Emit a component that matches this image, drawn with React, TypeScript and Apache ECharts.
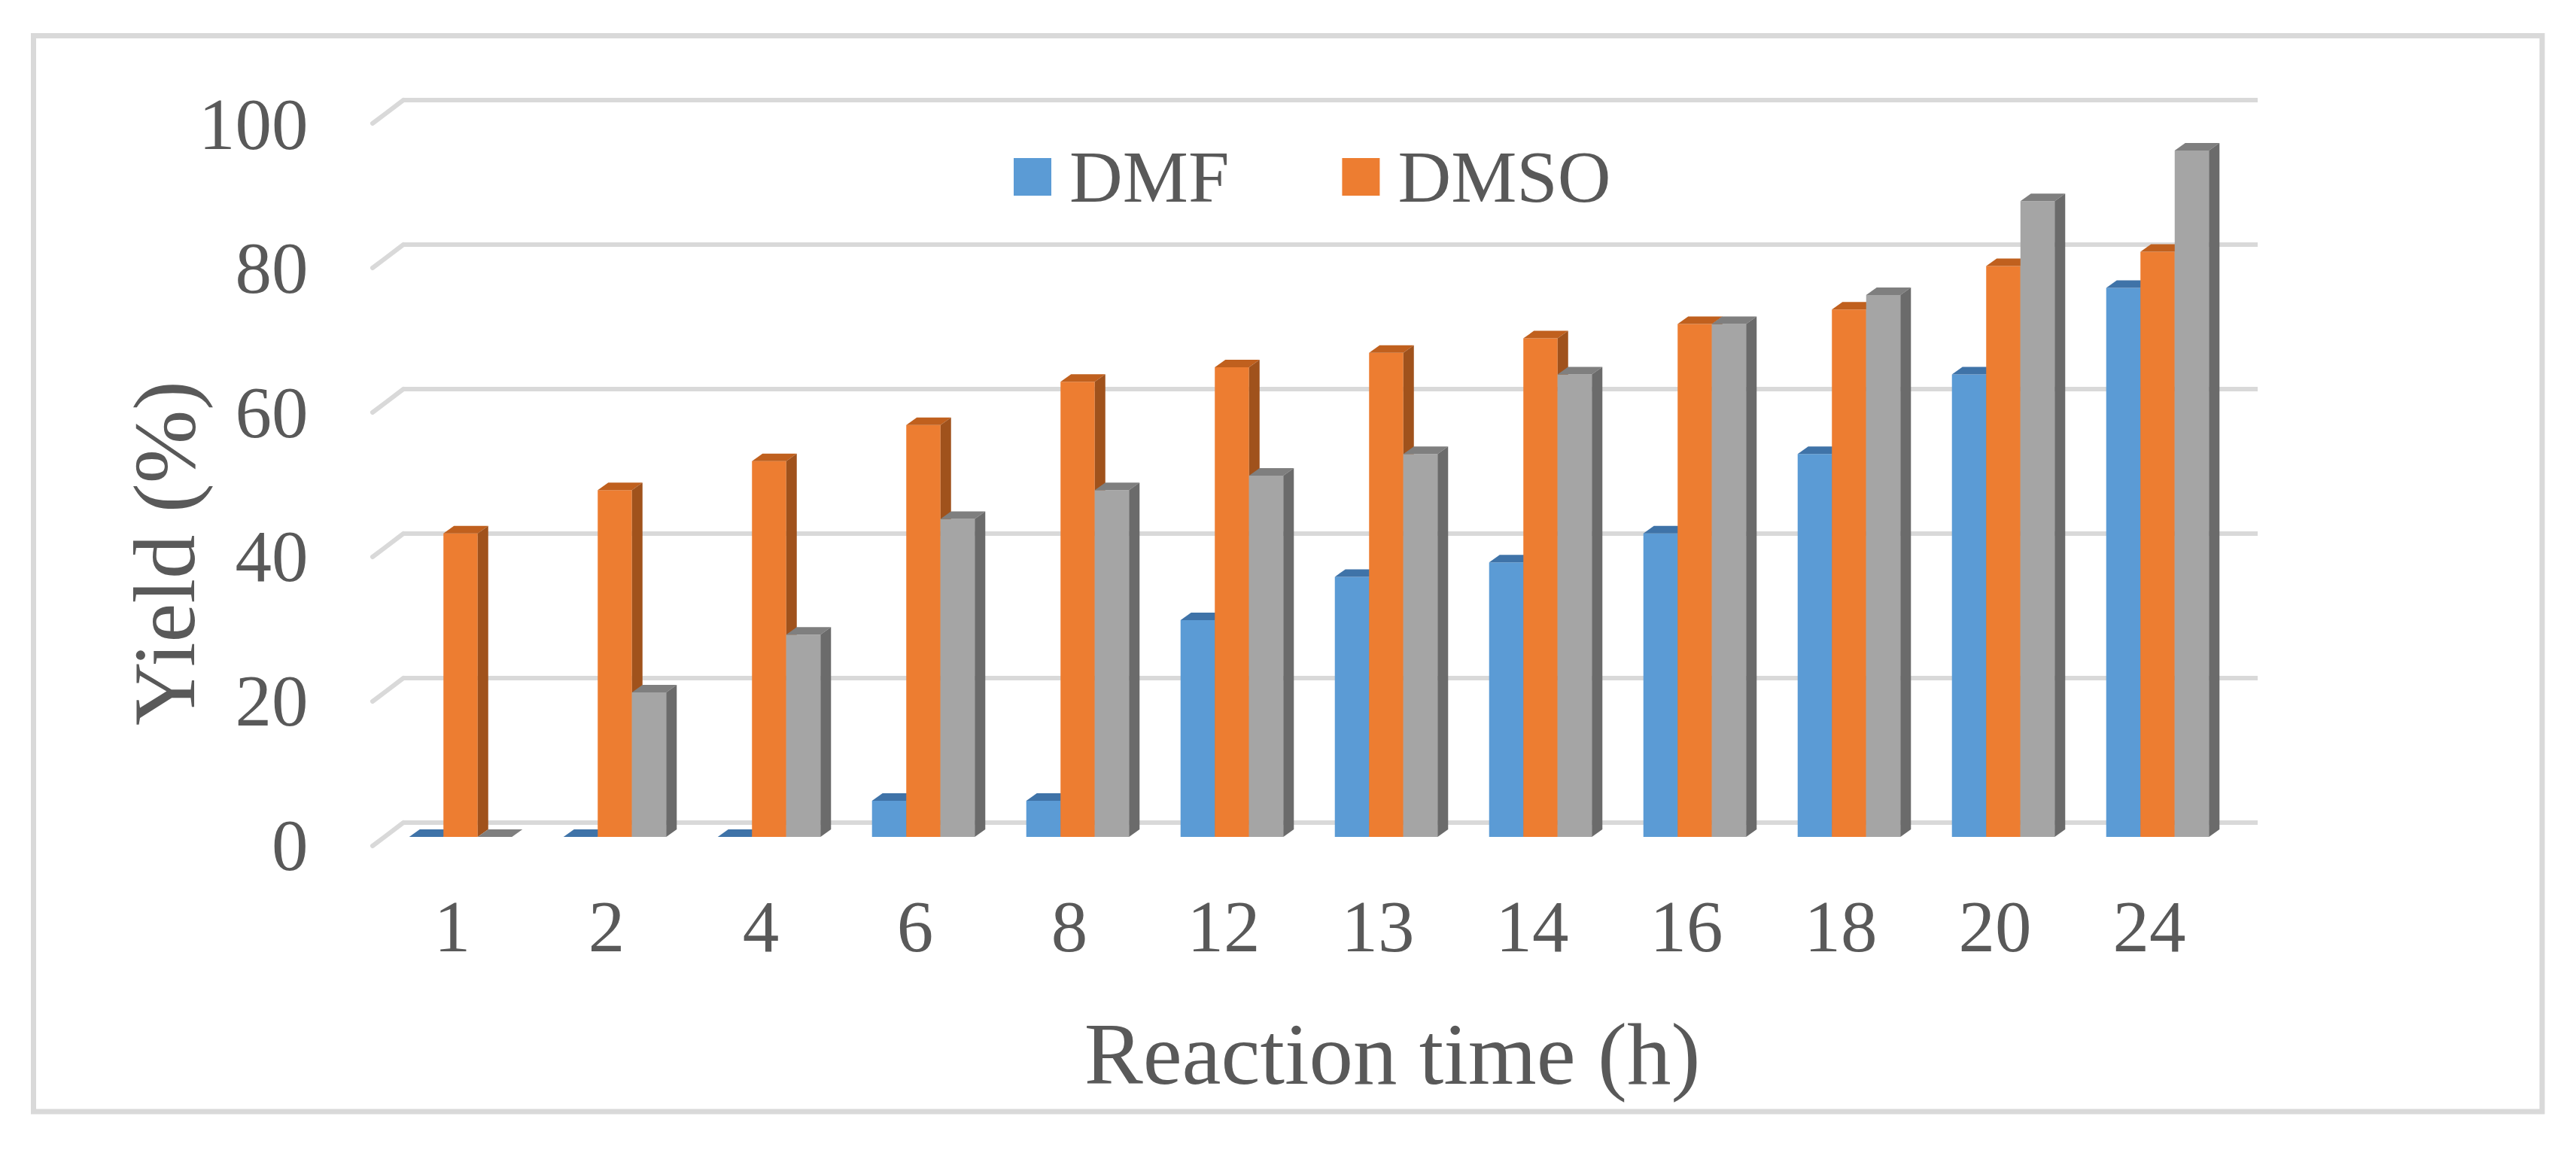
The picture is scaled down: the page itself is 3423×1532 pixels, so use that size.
import React, { useEffect, useRef } from "react";
import * as echarts from "echarts";

const categories = ["1", "2", "4", "6", "8", "12", "13", "14", "16", "18", "20", "24"];
const dmf = [0, 0, 0, 5, 5, 30, 36, 38, 42, 53, 64, 76];
const dmso = [42, 48, 52, 57, 63, 65, 67, 69, 71, 73, 79, 81];
const third = [0, 20, 28, 44, 48, 50, 53, 64, 71, 75, 88, 95];
const yTicks = [0, 20, 40, 60, 80, 100];

const FONT = '"Liberation Serif", "Times New Roman", serif';
const TEXT = "#595959";
const GRID = "#d9d9d9";
const BAR_RATIO = 0.222;
const DX = 14;
const DY = 10;

const palettes = [
  { front: "#5B9BD5", top: "#3F73A8", side: "#41719C" },
  { front: "#ED7D31", top: "#C0601E", side: "#A0521C" },
  { front: "#A5A5A5", top: "#7F7F7F", side: "#6B6B6B" },
];

function makeRender(idx: number) {
  const pal = palettes[idx];
  return (params: any, api: any) => {
    const cat = api.value(0);
    const val = api.value(1);
    const p = api.coord([cat, val]);
    const b = api.coord([cat, 0]);
    const band = api.size([1, 0])[0];
    const w = band * BAR_RATIO;
    const x = p[0] + (idx - 1.5) * w;
    const yt = p[1];
    const yb = b[1];
    return {
      type: "group",
      children: [
        { type: "rect", shape: { x, y: yt, width: w, height: yb - yt }, style: { fill: pal.front } },
        {
          type: "polygon",
          shape: { points: [[x, yt], [x + DX, yt - DY], [x + w + DX, yt - DY], [x + w, yt]] },
          style: { fill: pal.top },
        },
        {
          type: "polygon",
          shape: { points: [[x + w, yt], [x + w + DX, yt - DY], [x + w + DX, yb - DY], [x + w, yb]] },
          style: { fill: pal.side },
        },
      ],
    };
  };
}

export default function App() {
  const ref = useRef<HTMLDivElement>(null);
  useEffect(() => {
    if (!ref.current) return;
    const chart = echarts.init(ref.current, null, { renderer: "svg" });
    const seriesData = [dmf, dmso, third];
    const names = ["DMF", "DMSO", "Series3"];
    chart.setOption({
      animation: false,
      backgroundColor: "#ffffff",
      grid: [
        { left: 509.5, top: 152, width: 2460, height: 960 },
        { left: 536, top: 133, width: 2464, height: 960 },
        { left: 498.5, top: 165, width: 2460, height: 958 },
      ],
      xAxis: [
        { gridIndex: 0, type: "category", data: categories, show: false },
        { gridIndex: 1, type: "value", min: 0, max: 1, show: false },
        {
          gridIndex: 2,
          type: "category",
          data: categories,
          axisLine: { show: false },
          axisTick: { show: false },
          axisLabel: { color: TEXT, fontSize: 97, fontFamily: FONT, margin: 60 },
        },
      ],
      yAxis: [
        { gridIndex: 0, type: "value", min: 0, max: 100, interval: 20, show: false },
        {
          gridIndex: 1,
          type: "value",
          min: 0,
          max: 100,
          interval: 20,
          axisLine: { show: false },
          axisTick: { show: false },
          axisLabel: { show: false },
          splitLine: { show: true, lineStyle: { color: GRID, width: 6 } },
        },
        {
          gridIndex: 2,
          type: "value",
          min: 0,
          max: 100,
          interval: 20,
          axisLine: { show: false },
          axisTick: { show: false },
          splitLine: { show: false },
          axisLabel: { color: TEXT, fontSize: 97, fontFamily: FONT, margin: 89 },
        },
      ],
      legend: {
        data: ["DMF", "DMSO"],
        left: 1347,
        top: 185,
        padding: 0,
        icon: "rect",
        itemWidth: 50,
        itemHeight: 50,
        itemGap: 150,
        textStyle: { color: TEXT, fontSize: 98, fontFamily: FONT, lineHeight: 100, padding: [0, 0, 0, 19] },
      },
      series: [
        {
          type: "custom",
          name: "stubs",
          xAxisIndex: 1,
          yAxisIndex: 1,
          z: 1,
          silent: true,
          data: yTicks.map((v) => [0, v]),
          renderItem: (params: any, api: any) => {
            const p = api.coord([0, api.value(1)]);
            return {
              type: "line",
              shape: { x1: p[0], y1: p[1], x2: p[0] - 41, y2: p[1] + 31 },
              style: { stroke: GRID, lineWidth: 6, lineCap: "round" },
            };
          },
        },
        ...seriesData.map((d, i) => ({
          type: "custom",
          name: names[i],
          xAxisIndex: 0,
          yAxisIndex: 0,
          z: 2,
          itemStyle: { color: palettes[i].front },
          data: d.map((v, j) => [j, v]),
          encode: { x: 0, y: 1 },
          renderItem: makeRender(i),
        })),
      ],
      graphic: [
        {
          type: "rect",
          shape: { x: 44.5, y: 47.5, width: 3333.5, height: 1429.5 },
          style: { fill: "none", stroke: GRID, lineWidth: 7 },
          z: -1,
        },
        {
          type: "text",
          x: 218,
          y: 735,
          rotation: Math.PI / 2,
          style: {
            text: "Yield (%)",
            fontSize: 117,
            fontFamily: FONT,
            fill: TEXT,
            align: "center",
            verticalAlign: "middle",
          },
        },
        {
          type: "text",
          x: 1850,
          y: 1400,
          style: {
            text: "Reaction time (h)",
            fontSize: 117,
            fontFamily: FONT,
            fill: TEXT,
            align: "center",
            verticalAlign: "middle",
          },
        },
      ],
    });
    return () => chart.dispose();
  }, []);
  return (
    <div
      ref={ref}
      style={{ position: "fixed", left: 0, top: 0, width: 3423, height: 1532, background: "#fff" }}
    />
  );
}
